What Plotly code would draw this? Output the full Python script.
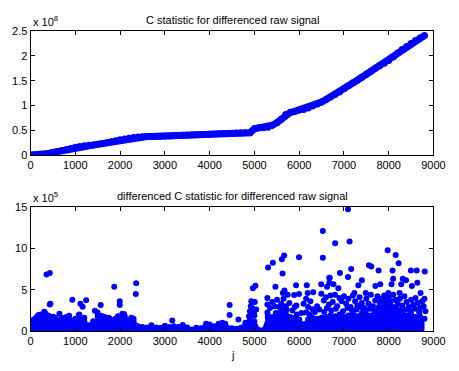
import plotly.graph_objects as go

# ---------- top panel: C statistic (units of 1e8) ----------
top_j = list(range(0, 8900, 100))
top_c = [0.00, 0.00, 0.005, 0.01, 0.03, 0.05, 0.07, 0.09, 0.11, 0.13,
         0.155, 0.17, 0.185, 0.195, 0.20, 0.215, 0.23, 0.25, 0.27, 0.29,
         0.31, 0.325, 0.34, 0.355, 0.365, 0.37, 0.372, 0.375, 0.378, 0.38,
         0.383, 0.386, 0.39, 0.395, 0.398, 0.40, 0.405, 0.41, 0.413, 0.416,
         0.42, 0.425, 0.43, 0.433, 0.436, 0.44, 0.442, 0.445, 0.447, 0.45,
         0.53, 0.55, 0.55, 0.56, 0.60, 0.65, 0.72, 0.82, 0.86, 0.88,
         0.91, 0.92, 0.95, 0.99, 1.03, 1.07, 1.12, 1.17, 1.22, 1.27,
         1.34, 1.40, 1.46, 1.51, 1.57, 1.63, 1.69, 1.75, 1.80, 1.85,
         1.91, 1.98, 2.06, 2.13, 2.19, 2.25, 2.31, 2.36, 2.41]

# ---------- bottom panel: differenced C statistic (units of 1e5) ----------
band_j = list(range(0, 8900, 100))
band_v = [1.2, 1.5, 1.4, 1.6, 1.5, 1.4, 1.3, 1.2, 1.4, 1.3,
          1.2, 1.4, 1.2, 0.7, 1.2, 1.3, 1.5, 1.5, 1.4, 1.5,
          1.6, 1.7, 1.3, 1.2, 0.6, 0.5, 0.45, 0.5, 0.45, 0.4,
          0.45, 0.5, 0.6, 0.5, 0.55, 0.45, 0.2, 0.4, 0.35, 0.6,
          0.5, 0.6, 0.7, 0.6, 0.4, 0.35, 0.3, 0.4, 1.0, 1.4,
          1.2, 0.15, 0.15, 1.6, 1.7, 2.0, 2.6, 2.2, 1.7, 1.6,
          1.4, 0.8, 1.4, 1.6, 1.5, 1.6, 1.7, 1.9, 1.8, 2.0,
          1.7, 1.9, 2.1, 1.8, 2.2, 2.0, 1.9, 2.3, 2.8, 3.3,
          3.2, 2.9, 2.4, 2.2, 1.9, 2.1, 1.7, 1.8, 1.5]

pts_j = [68, 177, 230, 306, 320, 357, 429, 443, 429, 501, 645, 861, 933, 1077, 1090,
         1113, 1163, 1242, 1437, 1494, 1567, 1581, 1869, 1992, 1992, 2085, 2100, 2300,
         2351, 2359, 3165, 3922, 4282, 4447, 4447, 4642,
         150, 250, 400, 550, 700, 800, 1000, 1200, 1500, 1650, 1750, 1950, 2050, 2250,
         2700, 3000, 3400, 4000, 4200, 4350,
         4880, 4900, 4920, 4930, 4950, 4966, 4990, 5010, 5024, 5040, 5000,
         5305, 5413, 5614, 5665, 5629, 5996, 5470, 5290, 5290, 5290, 5506, 5636, 5672,
         5744, 5888, 5931, 5996, 5938, 6169, 6190, 6313, 6154, 6154, 6493, 6529, 6529,
         6493, 6673, 6673, 6551, 6665, 6299,
         5350, 5400, 5450, 5550, 5600, 5650, 5700, 5780, 5850, 5900, 6050, 6100, 6200,
         6250, 6350, 6400, 6450, 6600, 6620, 5300, 5480, 5720, 5950, 6230, 6560,
         7091, 6803, 7127, 7977, 8157, 8222, 7559, 7610, 6910, 7163, 7775, 8086, 8496,
         8626, 8805, 7091, 6681, 8099, 8315, 8388, 8639, 7321, 7401, 7703, 7811, 8064,
         8280, 6623, 6767, 6875, 7991, 8712, 8243, 8518, 7234, 7487,
         6700, 6750, 6800, 6850, 6900, 6950, 7000, 7050, 7100, 7150, 7200, 7250, 7300,
         7350, 7400, 7450, 7500, 7550, 7600, 7650, 7700, 7750, 7800, 7850, 7900, 7950,
         8000, 8050, 8100, 8150, 8200, 8250, 8300, 8350, 8400, 8450, 8500, 8550, 8600,
         8650, 8700, 8750, 8800, 8780, 8820,
         6720, 6820, 6980, 7080, 7180, 7280, 7380, 7480, 7580, 7680, 7780, 7880, 8180,
         8280, 8380, 8480, 8580, 8680]
pts_v = [1.36, 1.95, 2.0, 2.33, 2.25, 6.84, 7.0, 3.3, 3.2, 1.75, 2.1, 1.86, 3.8, 1.95, 2.0,
         3.3, 2.95, 3.73, 2.45, 2.25, 3.15, 1.86, 5.36, 3.6, 3.15, 2.06, 1.9, 1.48,
         4.47, 5.79, 1.28, 0.9, 1.0, 3.15, 1.95, 1.4,
         1.8, 1.7, 1.9, 1.6, 1.6, 1.7, 1.5, 1.6, 1.8, 1.7, 1.6, 1.8, 2.1, 1.6,
         0.7, 0.65, 0.75, 0.8, 0.9, 0.9,
         1.8, 2.4, 3.0, 3.6, 2.8, 5.17, 2.2, 3.5, 5.48, 2.6, 1.9,
         7.69, 8.24, 8.66, 9.13, 6.96, 8.9, 5.36, 4.0, 3.22, 2.25, 3.8, 4.6, 4.9,
         4.4, 4.35, 5.55, 4.47, 3.1, 5.55, 4.6, 4.7, 3.9, 2.25, 5.67, 8.86, 12.08,
         4.5, 6.45, 5.83, 3.7, 3.22, 2.64,
         2.8, 3.5, 3.0, 2.9, 3.3, 3.9, 3.0, 3.4, 2.5, 2.9, 2.2, 3.3, 2.9,
         3.6, 2.3, 3.0, 2.6, 4.1, 2.8, 1.9, 2.2, 2.6, 2.0, 2.0, 2.3,
         14.7, 10.6, 10.8, 9.75, 9.17, 8.2, 7.96, 7.8, 7.0, 7.5, 7.3, 7.3, 7.3,
         7.3, 7.2, 6.53, 6.45, 6.33, 6.33, 6.14, 5.83, 5.55, 6.14, 5.44, 5.67, 5.67,
         5.67, 5.36, 5.67, 5.17, 4.6, 4.6, 4.6, 5.44, 4.6, 4.6,
         4.3, 3.5, 4.4, 3.0, 4.0, 3.6, 4.2, 3.3, 3.9, 2.9, 4.3, 3.6, 3.1,
         4.1, 3.4, 2.8, 3.9, 3.3, 4.4, 3.0, 3.7, 4.2, 3.5, 3.9, 4.3, 3.7,
         4.1, 3.6, 4.4, 3.8, 3.3, 3.9, 3.1, 4.2, 3.5, 2.9, 3.8, 3.2, 4.0,
         3.4, 2.8, 3.6, 3.9, 3.0, 2.4,
         2.5, 2.7, 2.4, 2.8, 2.5, 2.6, 2.9, 2.4, 2.7, 2.5, 2.9, 2.6, 2.7,
         2.5, 2.6, 2.4, 2.7, 2.3]

x_ticks = [0, 1000, 2000, 3000, 4000, 5000, 6000, 7000, 8000, 9000]
top_yticks = [0, 0.5, 1, 1.5, 2, 2.5]
top_ylabels = ["0", "0.5", "1", "1.5", "2", "2.5"]
bot_yticks = [0, 5, 10, 15]

BLUE = "#0000FF"
W, H = 459, 371
FONT = "Liberation Sans, Arial, sans-serif"

fig = go.Figure()
fig.add_trace(go.Scatter(x=top_j, y=top_c, mode="lines+markers",
                         line=dict(color=BLUE, width=7),
                         marker=dict(color=BLUE, size=7),
                         xaxis="x", yaxis="y", showlegend=False))
fig.add_trace(go.Scatter(x=band_j, y=band_v, mode="lines+markers", fill="tozeroy",
                         fillcolor=BLUE, line=dict(color=BLUE, width=3),
                         marker=dict(color=BLUE, size=6),
                         xaxis="x2", yaxis="y2", showlegend=False))
fig.add_trace(go.Scatter(x=pts_j, y=pts_v, mode="markers",
                         marker=dict(color=BLUE, size=6),
                         xaxis="x2", yaxis="y2", showlegend=False))

xdom = [28.5 / W, 445 / W]
top_dom = [(H - 154) / H, (H - 26) / H]
bot_dom = [(H - 336) / H, (H - 207.5) / H]

axis_common = dict(showline=True, linecolor="black", linewidth=1, mirror="ticks",
                   ticks="inside", ticklen=4, tickcolor="black", showgrid=False,
                   zeroline=False, tickfont=dict(family=FONT, size=11, color="black"))

fig.update_layout(
    width=W, height=H, margin=dict(l=0, r=0, t=0, b=0),
    paper_bgcolor="white", plot_bgcolor="white",
    xaxis=dict(domain=xdom, range=[0, 9000], tickvals=x_ticks, anchor="y", **axis_common),
    yaxis=dict(domain=top_dom, range=[0, 2.5], tickvals=top_yticks, ticktext=top_ylabels,
               anchor="x", **axis_common),
    xaxis2=dict(domain=xdom, range=[0, 9000], tickvals=x_ticks, anchor="y2", **axis_common),
    yaxis2=dict(domain=bot_dom, range=[0, 15], tickvals=bot_yticks, anchor="x2", **axis_common),
    annotations=[
        dict(text="C statistic for differenced raw signal", x=(xdom[0] + xdom[1]) / 2,
             y=(H - 14) / H, xref="paper", yref="paper", showarrow=False,
             font=dict(family=FONT, size=11, color="black"), yanchor="middle"),
        dict(text="differenced C statistic for differenced raw signal",
             x=(xdom[0] + xdom[1]) / 2, y=(H - 196) / H, xref="paper", yref="paper",
             showarrow=False, font=dict(family=FONT, size=11, color="black"),
             yanchor="middle"),
        dict(text="x 10<sup>8</sup>", x=xdom[0], y=(H - 15) / H, xref="paper", yref="paper",
             xanchor="left", yanchor="middle", showarrow=False,
             font=dict(family=FONT, size=11, color="black")),
        dict(text="x 10<sup>5</sup>", x=xdom[0], y=(H - 197) / H, xref="paper", yref="paper",
             xanchor="left", yanchor="middle", showarrow=False,
             font=dict(family=FONT, size=11, color="black")),
        dict(text="j", x=(xdom[0] + xdom[1]) / 2, y=(H - 361) / H, xref="paper",
             yref="paper", showarrow=False, yanchor="middle",
             font=dict(family=FONT, size=11, color="black")),
    ],
)

fig.write_html("out.html")
